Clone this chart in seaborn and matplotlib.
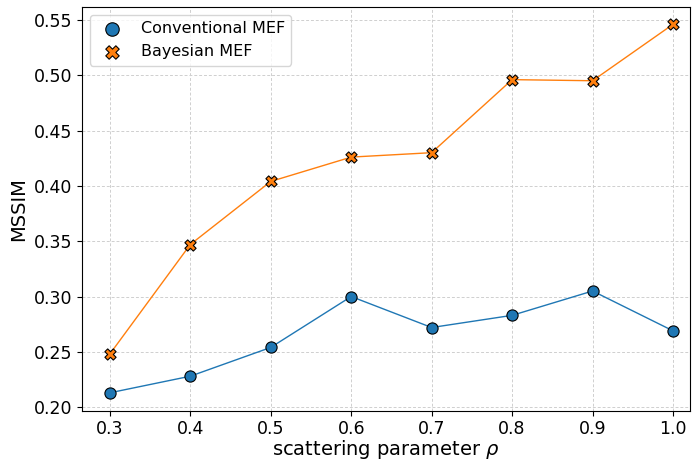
import matplotlib
matplotlib.use('Agg')
import matplotlib.pyplot as plt
import seaborn as sns
import pandas as pd

# --- datos ---
rho = [0.3, 0.4, 0.5, 0.6, 0.7, 0.8, 0.9, 1.0]
conventional = [0.213, 0.228, 0.254, 0.300, 0.272, 0.283, 0.305, 0.269]
bayesian = [0.248, 0.347, 0.404, 0.426, 0.430, 0.496, 0.495, 0.546]

df = pd.DataFrame({'rho': rho, 'Conventional MEF': conventional, 'Bayesian MEF': bayesian})

sns.set_style("ticks")
plt.rcParams['font.family'] = ['DejaVu Sans']
plt.rcParams['text.color'] = 'black'
plt.rcParams['axes.labelcolor'] = 'black'
plt.rcParams['xtick.color'] = 'black'
plt.rcParams['ytick.color'] = 'black'
plt.rcParams['axes.edgecolor'] = 'black'

fig, ax = plt.subplots(figsize=(6.92, 4.62), dpi=100)

blue = '#1f77b4'
orange = '#ff7f0e'

sns.lineplot(data=df, x='rho', y='Conventional MEF', color=blue, lw=1, ax=ax, zorder=2)
sns.lineplot(data=df, x='rho', y='Bayesian MEF', color=orange, lw=1, ax=ax, zorder=2)
sns.scatterplot(data=df, x='rho', y='Conventional MEF', color=blue, marker='o', s=65,
                edgecolor='black', linewidth=0.8, label='Conventional MEF', ax=ax, zorder=3)
sns.scatterplot(data=df, x='rho', y='Bayesian MEF', color=orange, marker='X', s=65,
                edgecolor='black', linewidth=0.8, label='Bayesian MEF', ax=ax, zorder=3)

ax.grid(True, linestyle=(0, (3, 2)), color='#cfcfcf', linewidth=0.7)
ax.set_axisbelow(True)
ax.set_xlim(0.265, 1.021)
ax.set_ylim(0.1964, 0.5617)
ax.set_xticks(rho)
ax.set_yticks([0.20, 0.25, 0.30, 0.35, 0.40, 0.45, 0.50, 0.55])
ax.tick_params(labelsize=12.5, pad=3)
ax.set_xlabel(r'scattering parameter $\rho$', fontsize=14, labelpad=0)
ax.set_ylabel('MSSIM', fontsize=14, labelpad=4)
ax.legend(loc='upper left', fontsize=11.5, markerscale=1.2)

plt.subplots_adjust(left=0.118, right=0.997, top=0.985, bottom=0.11)
plt.savefig('out.png')
plt.close()
